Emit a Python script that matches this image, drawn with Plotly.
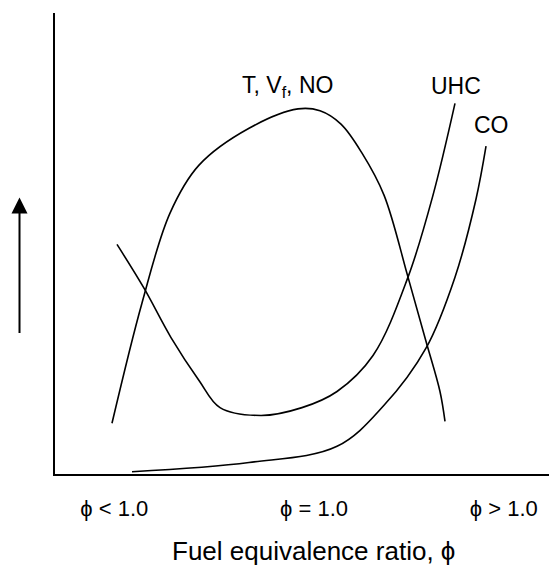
import plotly.graph_objects as go

# Data (arbitrary units)
t_x = [1.135, 1.733, 2.291, 2.869, 3.865, 4.841, 5.279, 5.697, 6.116, 6.554, 7.032, 7.390, 7.669, 7.769]
t_y = [1.10, 3.71, 5.66, 6.70, 7.50, 7.92, 7.88, 7.59, 6.96, 6.05, 4.27, 2.88, 1.79, 1.14]

uhc_x = [1.235, 1.773, 2.311, 2.869, 3.287, 4.104, 4.920, 5.618, 6.335, 7.032, 7.530, 7.968]
uhc_y = [4.98, 4.03, 2.96, 2.03, 1.44, 1.27, 1.44, 1.79, 2.57, 4.27, 6.05, 8.04]

co_x = [1.534, 3.865, 5.618, 6.554, 7.390, 7.968, 8.386, 8.586]
co_y = [0.05, 0.25, 0.60, 1.49, 2.73, 4.27, 5.96, 7.11]

tick_vals = [1.18, 5.16, 8.94]
tick_text = ["\u03d5 < 1.0", "\u03d5 = 1.0", "\u03d5 > 1.0"]

labels = ["T, V<sub>f</sub>, NO", "UHC", "CO"]
label_x = [4.64, 7.98, 8.69]
label_y = [8.41, 8.41, 7.56]

x_title = "Fuel equivalence ratio, \u03d5"

FONT = "Liberation Sans, Arial, sans-serif"

fig = go.Figure()
for xs, ys in [(t_x, t_y), (uhc_x, uhc_y), (co_x, co_y)]:
    fig.add_trace(go.Scatter(x=xs, y=ys, mode="lines",
                             line=dict(color="black", width=1.6, shape="spline", smoothing=1.0),
                             hoverinfo="skip", showlegend=False))

for txt, lx, ly in zip(labels, label_x, label_y):
    fig.add_annotation(x=lx, y=ly, text=txt, showarrow=False,
                       font=dict(family=FONT, size=23, color="black"))

# x axis title (as annotation so it can be centred like the reference)
fig.add_annotation(x=5.14, y=0, xref="x", yref="paper", yanchor="middle",
                   yshift=-77, text=x_title, showarrow=False,
                   font=dict(family=FONT, size=26, color="black"))

# vertical arrow on the left (outside the plotting area)
fig.add_annotation(x=-0.0707, y=6.0, xref="paper", yref="y", ax=0, ay=137,
                   text="", showarrow=True,
                   arrowhead=2, arrowsize=1.6, arrowwidth=2, arrowcolor="black")

fig.update_layout(
    width=549, height=557,
    margin=dict(l=47, r=0, t=5, b=91),
    paper_bgcolor="white", plot_bgcolor="white",
    font=dict(family=FONT, color="black"),
    xaxis=dict(range=[0, 10], showgrid=False, zeroline=False,
               showline=True, linecolor="black", linewidth=2,
               tickvals=tick_vals, ticktext=tick_text,
               ticks="outside", ticklen=14, tickcolor="rgba(0,0,0,0)",
               tickfont=dict(size=22, family=FONT, color="black")),
    yaxis=dict(range=[0, 10], showgrid=False, zeroline=False,
               showline=True, linecolor="black", linewidth=2,
               showticklabels=False, ticks=""),
)

fig.write_html("out.html")
